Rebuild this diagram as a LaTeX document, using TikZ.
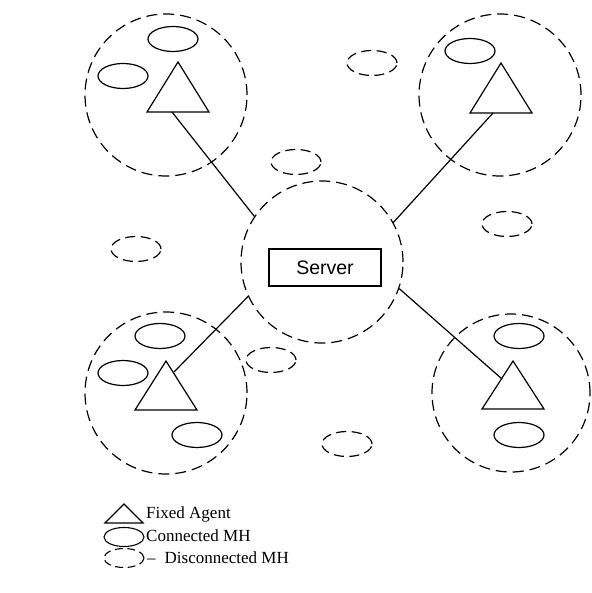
\documentclass[tikz,border=0pt]{standalone}
\usepackage{fontspec}
\setmainfont{Liberation Serif}
\newfontfamily\arialfont{Liberation Sans}
\usetikzlibrary{shapes.geometric}
\begin{document}
\begin{tikzpicture}[x=1pt,y=-1pt,
  cellc/.style={circle,draw,line width=1.2pt,dash pattern=on 11pt off 6pt,minimum size=162pt,inner sep=0pt},
  mh/.style={ellipse,draw,line width=1.2pt,minimum width=50pt,minimum height=25pt,inner sep=0pt},
  dmh/.style={mh,dash pattern=on 10pt off 5.5pt},
  lmh/.style={ellipse,draw,line width=1.1pt,minimum width=40pt,minimum height=19pt,inner sep=0pt},
  ldmh/.style={lmh,dash pattern=on 8pt off 4.5pt},
  link/.style={line width=1.2pt},
  fa/.style={line width=1.2pt,line join=miter},
  lab/.style={anchor=west,inner sep=0pt,font=\fontsize{17}{20}\selectfont}
]
\useasboundingbox (0,0) rectangle (591,593);

% cells
\node[cellc] (ctl) at (166,95) {};
\node[cellc] (ctr) at (500,95) {};
\node[cellc] (cbl) at (166,393) {};
\node[cellc, minimum size=158pt] (cbr) at (511,393) {};
\node[cellc] (srv) at (322,262) {};

% server box
\node[draw,line width=1.2pt,minimum width=112pt,minimum height=37pt,inner sep=0pt,
      font=\arialfont\fontsize{19.5}{22}\selectfont] (server) at (325,267.5) {\raisebox{-2pt}{Server}};

% fixed agents
\draw[fa] (147,112) -- (209,112) -- (178,62) -- cycle;
\draw[fa] (470,113) -- (532,113) -- (501,63) -- cycle;
\draw[fa] (135,410) -- (197,410) -- (166,361) -- cycle;
\draw[fa] (482,409) -- (544,409) -- (513,361) -- cycle;
\coordinate (atl) at (172,112);
\coordinate (atr) at (493,113);
\coordinate (abl) at (174,372);
\coordinate (abr) at (502,379);

% links
\draw[link] (atl) -- (srv.146);
\draw[link] (atr) -- (srv.29);
\draw[link] (abl) -- (srv.205);
\draw[link] (abr) -- (srv.341);

% connected MH
\node[mh] (m1) at (173,39) {};
\node[mh] (m2) at (123,76) {};
\node[mh] (m3) at (470,51) {};
\node[mh] (m4) at (160,336) {};
\node[mh] (m5) at (123,373) {};
\node[mh] (m6) at (197,435) {};
\node[mh] (m7) at (519,336) {};
\node[mh] (m8) at (519,435) {};

% disconnected MH
\node[dmh] (d1) at (296,162) {};
\node[dmh] (d2) at (372,63) {};
\node[dmh] (d3) at (136,249) {};
\node[dmh] (d4) at (507,224) {};
\node[dmh] (d5) at (271,360) {};
\node[dmh] (d6) at (347,444) {};

% legend
\draw[fa] (105,523) -- (143,523) -- (124,504) -- cycle;
\node[lab] (t1) at (146,514) {Fixed Agent};
\node[lmh] (l2) at (124,537) {};
\node[lab] (t2) at (146,536) {Connected MH};
\node[ldmh] (l3) at (124,558) {};
\node[lab] (t3) at (147,558) {–\hspace{9pt}Disconnected MH};
\end{tikzpicture}
\end{document}
